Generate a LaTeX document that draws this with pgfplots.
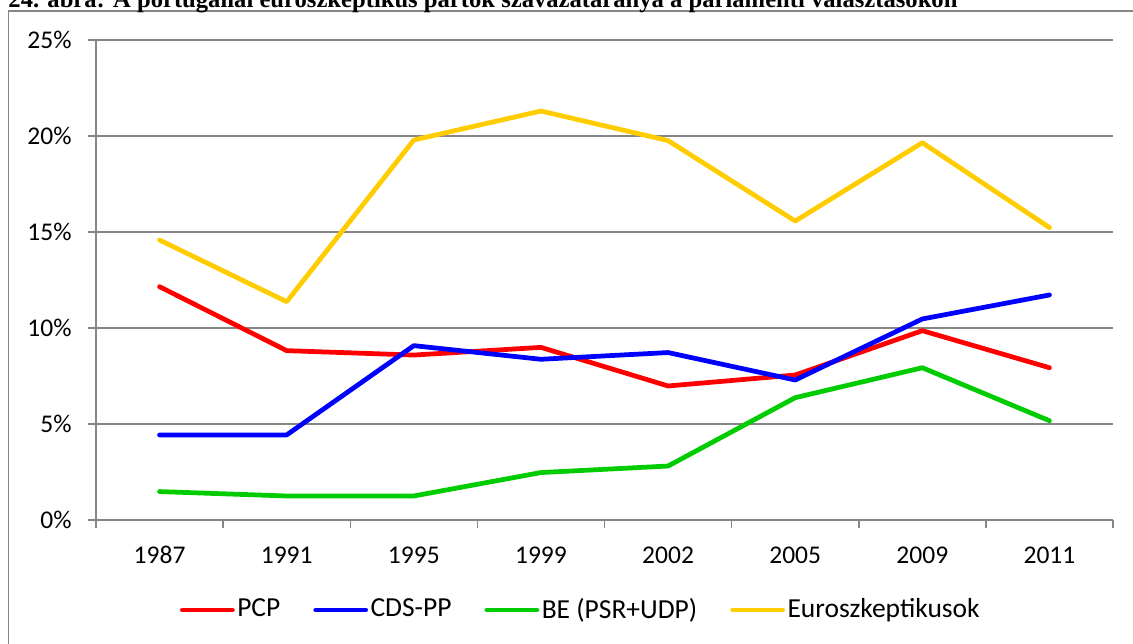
\documentclass[border=0pt]{standalone}
\usepackage{pgfplots}
\pgfplotsset{compat=1.18}
\usepackage{fontspec}
\setmainfont{Carlito}
\newfontfamily\titlefont{Liberation Serif}

\definecolor{gridgray}{HTML}{868686}
\definecolor{pcpred}{HTML}{FF0000}
\definecolor{cdsblue}{HTML}{0000FF}
\definecolor{begreen}{HTML}{00CC00}
\definecolor{euroyellow}{HTML}{FFCC00}

\begin{document}
\begin{tikzpicture}[x=0.4pt,y=0.4pt]
\fontsize{10.2}{12}\selectfont
% chart area frame (cut by the page on the right and bottom)
\draw[gridgray, line width=0.6pt] (8.5,-10) -- (8.5,633) -- (1145,633);
\node[anchor=base west, inner sep=0pt, font=\titlefont\bfseries\fontsize{9.85}{12}\selectfont]
  at (8,636) {24. ábra: A portugáliai euroszkeptikus pártok szavazataránya a parlamenti választásokon};

\begin{axis}[
    at={(38.4pt,49.6pt)}, anchor=south west,
    scale only axis,
    width=406.8pt, height=192pt,
    xmin=-0.5, xmax=7.5,
    ymin=0, ymax=25,
    axis x line*=bottom, axis y line*=left,
    axis line style={draw=gridgray, line width=0.6pt},
    tick align=outside,
    major tick length=3.2pt,
    tick style={draw=gridgray, line width=0.6pt},
    xtick={-0.5,0.5,...,7.5},
    xticklabels={,,,,,,,,},
    extra x ticks={0,1,2,3,4,5,6,7},
    extra x tick labels={1987,1991,1995,1999,2002,2005,2009,2011},
    extra x tick style={tick style={draw=none}, xticklabel style={yshift=-3.8pt}},
    ytick={0,5,10,15,20,25},
    yticklabels={0\%,5\%,10\%,15\%,20\%,25\%},
    yticklabel style={xshift=-3pt},
    ymajorgrids,
    grid style={draw=gridgray, line width=0.6pt},
    /pgf/number format/assume math mode=true,
    legend columns=4,
    legend style={at={(0.477,-0.1875)}, anchor=center, draw=none, fill=none,
        font=\fontsize{11}{13}\selectfont,
        /tikz/every even column/.append style={column sep=12.2pt},
        nodes={inner sep=1pt}},
    legend image code/.code={\draw[#1, line width=1.9pt, line cap=round] (1pt,0pt) -- (21pt,0pt);},
    every axis plot/.append style={line width=1.9pt, line cap=round, line join=round, mark=none},
]
\addplot[pcpred] coordinates {
    (0,12.15) (1,8.82) (2,8.59) (3,8.99) (4,6.98) (5,7.55) (6,9.86) (7,7.93)
};
\addplot[cdsblue] coordinates {
    (0,4.43) (1,4.43) (2,9.08) (3,8.37) (4,8.72) (5,7.29) (6,10.47) (7,11.72)
};
\addplot[begreen] coordinates {
    (0,1.48) (1,1.25) (2,1.25) (3,2.47) (4,2.81) (5,6.37) (6,7.93) (7,5.17)
};
\addplot[euroyellow] coordinates {
    (0,14.58) (1,11.37) (2,19.79) (3,21.30) (4,19.76) (5,15.57) (6,19.65) (7,15.23)
};
\legend{PCP, CDS-PP, BE (PSR+UDP), Euroszkeptikusok}
\end{axis}

\pgfresetboundingbox
\path[use as bounding box] (0,0) rectangle (1133,644);
\end{tikzpicture}
\end{document}
